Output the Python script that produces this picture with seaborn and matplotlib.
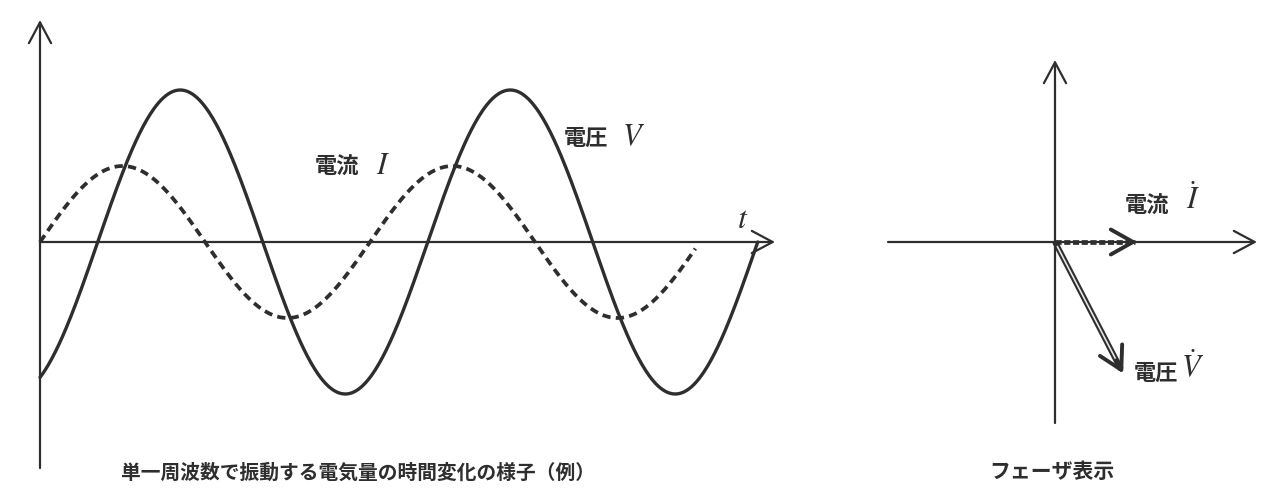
import numpy as np
import pandas as pd
import matplotlib
matplotlib.use("Agg")
import matplotlib.pyplot as plt
import seaborn as sns

# ---------------- data ----------------
wave_names = ["電圧", "電流"]          # voltage, current
wave_amplitude = [1.0, 0.5]            # relative amplitude
wave_phase_deg = [-63.0, 0.0]          # phase (voltage lags current)
wave_end_deg = [783.0, 715.0]          # extent of each drawn curve (deg)

phasor_names = ["電圧", "電流"]
phasor_mag = [1.0, 0.554]
phasor_angle_deg = [-62.6, 0.0]

caption_left = "単一周波数で振動する電気量の時間変化の様子（例）"
caption_right = "フェーザ表示"

# ---------------- style ----------------
sns.set_theme(style="white")
plt.rcParams["font.family"] = ["Noto Sans CJK JP", "DejaVu Sans"]
plt.rcParams["mathtext.fontset"] = "stix"

INK = "#2e2e2e"
W, H = 1271, 500
fig = plt.figure(figsize=(W / 100, H / 100), dpi=100)
fig.patch.set_facecolor("white")

def fig_rect(x0, y0, x1, y1):
    # pixel box (top-left origin) -> figure fraction rect
    return [x0 / W, 1 - y1 / H, (x1 - x0) / W, (y1 - y0) / H]

# ---------------- left: time waveforms ----------------
axL = fig.add_axes(fig_rect(20, 10, 800, 490))
px_per_deg = 330 / 360
x0px, y0px, vpx = 40, 242, 152
axL.set_xlim((20 - x0px) / px_per_deg, (800 - x0px) / px_per_deg)
axL.set_ylim((y0px - 490) / vpx, (y0px - 10) / vpx)
axL.axis("off")

rows = []
for name, a, ph, end in zip(wave_names, wave_amplitude, wave_phase_deg, wave_end_deg):
    th = np.linspace(0, end, 600)
    rows.append(pd.DataFrame({"theta": th, "value": a * np.sin(np.radians(th + ph)), "name": name}))
df = pd.concat(rows, ignore_index=True)

sns.lineplot(data=df[df.name == "電圧"], x="theta", y="value", ax=axL,
             color=INK, lw=2.4, estimator=None, sort=False, legend=False)
sns.lineplot(data=df[df.name == "電流"], x="theta", y="value", ax=axL,
             color=INK, lw=2.7, estimator=None, sort=False, legend=False,
             linestyle=(0, (2.2, 1.4)), dash_capstyle="butt")

arrow_kw = dict(arrowstyle="->,head_length=0.75,head_width=0.4", lw=1.6,
                color=INK, mutation_scale=20, shrinkA=0, shrinkB=0)
# axes with arrows
axL.annotate("", xy=(0, (y0px - 20) / vpx), xytext=(0, (y0px - 468) / vpx), arrowprops=arrow_kw)
axL.annotate("", xy=((775 - x0px) / px_per_deg, 0), xytext=(0, 0), arrowprops=arrow_kw)

axL.text((743 - x0px) / px_per_deg, (y0px - 219) / vpx, r"$t$", fontsize=23,
         ha="center", va="center", color=INK)
axL.text((586 - x0px) / px_per_deg, (y0px - 138) / vpx, "電圧", fontsize=16,
         fontweight="bold", ha="center", va="center", color=INK)
axL.text((633 - x0px) / px_per_deg, (y0px - 137) / vpx, r"$V$", fontsize=22,
         ha="center", va="center", color=INK)
axL.text((337 - x0px) / px_per_deg, (y0px - 167) / vpx, "電流", fontsize=16,
         fontweight="bold", ha="center", va="center", color=INK)
axL.text((383 - x0px) / px_per_deg, (y0px - 166) / vpx, r"$I$", fontsize=22,
         ha="center", va="center", color=INK)

fig.text(358 / W, 1 - 473 / H, caption_left, fontsize=14.2, fontweight="bold",
         ha="center", va="center", color=INK)

# ---------------- right: phasor diagram ----------------
axR = fig.add_axes(fig_rect(870, 40, 1265, 440))
ppu = 148.0
ox, oy = 1055, 242
axR.set_xlim((870 - ox) / ppu, (1265 - ox) / ppu)
axR.set_ylim((oy - 440) / ppu, (oy - 40) / ppu)
axR.axis("off")

axR.annotate("", xy=((1257 - ox) / ppu, 0), xytext=((888 - ox) / ppu, 0), arrowprops=arrow_kw)
axR.annotate("", xy=(0, (oy - 60) / ppu), xytext=(0, (oy - 423) / ppu), arrowprops=arrow_kw)

ph = pd.DataFrame({"name": phasor_names, "mag": phasor_mag, "ang": phasor_angle_deg})
ph["x"] = ph.mag * np.cos(np.radians(ph.ang))
ph["y"] = ph.mag * np.sin(np.radians(ph.ang))

head_kw = dict(arrowstyle="->,head_length=0.8,head_width=0.45", lw=2.8,
               color=INK, mutation_scale=20, shrinkA=0, shrinkB=0)
for _, r in ph.iterrows():
    seg = pd.DataFrame({"x": [0, r.x * 0.97], "y": [0, r.y * 0.97]})
    if r["name"] == "電流":
        sns.lineplot(data=seg, x="x", y="y", ax=axR, color=INK, lw=3.4,
                     estimator=None, sort=False, linestyle=(0, (1.3, 0.55)),
                     dash_capstyle="butt")
    else:
        sns.lineplot(data=seg, x="x", y="y", ax=axR, color=INK, lw=4.2,
                     estimator=None, sort=False, solid_capstyle="butt")
        seg2 = pd.DataFrame({"x": [r.x * 0.03, r.x * 0.93], "y": [r.y * 0.03, r.y * 0.93]})
        sns.lineplot(data=seg2, x="x", y="y", ax=axR, color="#e6e6e6", lw=1.2,
                     estimator=None, sort=False, solid_capstyle="butt")
    axR.annotate("", xy=(r.x, r.y), xytext=(r.x * 0.9, r.y * 0.9), arrowprops=head_kw)

axR.text((1147 - ox) / ppu, (oy - 206) / ppu, "電流", fontsize=16, fontweight="bold",
         ha="center", va="center", color=INK)
axR.text((1193 - ox) / ppu, (oy - 200) / ppu, r"$\dot{I}$", fontsize=22,
         ha="center", va="center", color=INK)
axR.text((1156 - ox) / ppu, (oy - 373) / ppu, "電圧", fontsize=16, fontweight="bold",
         ha="center", va="center", color=INK)
axR.text((1192 - ox) / ppu, (oy - 368) / ppu, r"$\dot{V}$", fontsize=22,
         ha="center", va="center", color=INK)

fig.text(1052 / W, 1 - 471 / H, caption_right, fontsize=15, fontweight="bold",
         ha="center", va="center", color=INK)

fig.savefig("out.png", dpi=100, facecolor="white")
